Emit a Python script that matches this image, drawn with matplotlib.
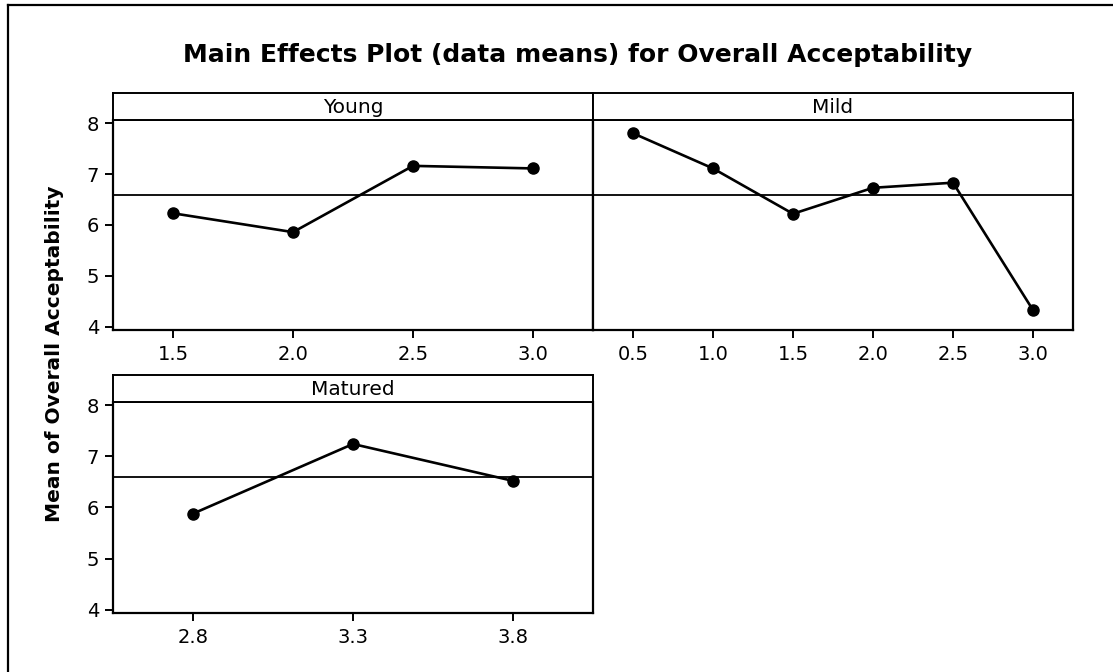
import matplotlib.pyplot as plt
from matplotlib.lines import Line2D

# panel data
young_x = [1.5, 2.0, 2.5, 3.0]
young_y = [6.23, 5.86, 7.16, 7.11]

mild_x = [0.5, 1.0, 1.5, 2.0, 2.5, 3.0]
mild_y = [7.80, 7.11, 6.22, 6.73, 6.83, 4.33]

matured_x = [2.8, 3.3, 3.8]
matured_y = [5.88, 7.24, 6.52]
matured_ticks = ["2.8", "3.3", "3.8"]

grand_mean = 6.59
y_ticks = [4, 5, 6, 7, 8]

W, H = 1113, 672
fig = plt.figure(figsize=(W / 100, H / 100), dpi=100)
fig.patch.set_facecolor("white")


def px_axes(x0, y0, x1, y1):
    # pixel box (top-left origin) -> figure axes
    return fig.add_axes([x0 / W, 1 - y1 / H, (x1 - x0) / W, (y1 - y0) / H])


def panel(x0, x1, top, strip_h, bottom, name, xs, ys, xlim, ticks, labels, show_y):
    ax = px_axes(x0, top + strip_h, x1, bottom)
    ax.plot(xs, ys, color="black", lw=1.9, marker="o", ms=8, zorder=3)
    ax.axhline(grand_mean, color="black", lw=1.3)
    ax.set_xlim(*xlim)
    ax.set_ylim(3.94, 8.06)
    ax.set_xticks(ticks)
    ax.set_xticklabels(labels)
    ax.tick_params(axis="x", direction="out", length=6, width=1.4, labelsize=14, pad=5)
    if show_y:
        ax.set_yticks(y_ticks)
        ax.tick_params(axis="y", direction="out", length=6, width=1.4, labelsize=14, pad=4)
    else:
        ax.set_yticks([])
    for s in ax.spines.values():
        s.set_linewidth(1.6)
    ax.spines["top"].set_linewidth(1.3)

    st = px_axes(x0, top, x1, top + strip_h)
    st.set_xticks([])
    st.set_yticks([])
    for s in st.spines.values():
        s.set_linewidth(1.4)
    st.text(0.5, 0.48, name, ha="center", va="center", fontsize=14.5, transform=st.transAxes)
    return ax


panel(113, 593, 93, 27, 330, "Young", young_x, young_y, (1.25, 3.25),
      young_x, ["%.1f" % v for v in young_x], True)
panel(593, 1073, 93, 27, 330, "Mild", mild_x, mild_y, (0.25, 3.25),
      mild_x, ["%.1f" % v for v in mild_x], False)
panel(113, 593, 375, 27, 613, "Matured", matured_x, matured_y, (2.55, 4.05),
      matured_x, matured_ticks, True)

fig.text(578 / W, 1 - 55 / H, "Main Effects Plot (data means) for Overall Acceptability",
         ha="center", va="center", fontsize=18, fontweight="heavy")
fig.text(55 / W, 1 - 354 / H, "Mean of Overall Acceptability", ha="center", va="center",
         rotation=90, fontsize=14.5, fontweight="heavy")

# outer frame (left and top edges only, as cropped in the scan)
fig.add_artist(Line2D([8 / W, 8 / W], [0, 1 - 5 / H], color="black", lw=1.6))
fig.add_artist(Line2D([8 / W, 1], [1 - 5 / H, 1 - 5 / H], color="black", lw=1.6))

fig.savefig("out.png", dpi=100, facecolor="white")
